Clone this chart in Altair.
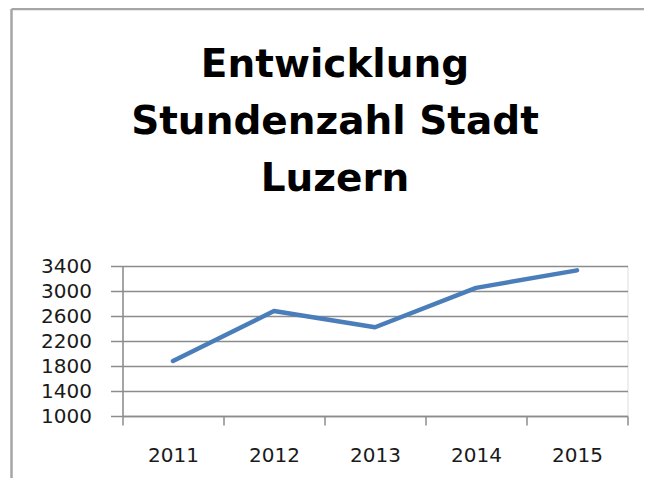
import altair as alt
import pandas as pd

# ---- data ----
years = ["2011", "2012", "2013", "2014", "2015"]
hours = [1880, 2680, 2420, 3050, 3330]
y_ticks = [1000, 1400, 1800, 2200, 2600, 3000, 3400]
title_lines = ["Entwicklung", "Stundenzahl Stadt", "Luzern"]

df = pd.DataFrame({"Jahr": years, "Stunden": hours})
one = pd.DataFrame({"k": [0]})

W, H = 505, 150
PAD_L, PAD_T, PAD_R, PAD_B = 114.5, 258, 16.5, 62

grey = "#8c8c8c"
frame_color = "#a6a6a6"
label_font = "DejaVu Sans"

line = alt.Chart(df).mark_line(
    color="#4A7EBB", strokeWidth=4.5, strokeCap="round", strokeJoin="round"
).encode(
    x=alt.X(
        "Jahr:O",
        sort=years,
        scale=alt.Scale(type="band", paddingInner=0, paddingOuter=0),
        axis=alt.Axis(
            title=None, labelAngle=0, tickBand="extent", tickSize=9,
            tickColor=grey, tickWidth=1.5, domainColor=grey, domainWidth=1.5,
            labelFont=label_font, labelFontSize=20, labelPadding=20,
            labelColor="#1a1a1a", grid=False,
        ),
    ),
    y=alt.Y(
        "Stunden:Q",
        scale=alt.Scale(domain=[1000, 3400], nice=False, zero=False),
        axis=alt.Axis(
            title=None, values=y_ticks, format="d", tickSize=12, tickColor=grey,
            tickWidth=1.5, domainColor=grey, domainWidth=1.5,
            labelFont=label_font, labelFontSize=20, labelPadding=19,
            labelColor="#1a1a1a", grid=True, gridColor=grey, gridWidth=1.5,
        ),
    ),
)

top_border = alt.Chart(one).mark_rule(color=frame_color, strokeWidth=2.5).encode(
    x=alt.value(-111), x2=alt.value(W + PAD_R), y=alt.value(-257)
)
left_border = alt.Chart(one).mark_rule(color=frame_color, strokeWidth=2.5).encode(
    x=alt.value(-111), y=alt.value(-257), y2=alt.value(H + PAD_B)
)

chart = alt.layer(top_border, left_border, line).properties(
    width=W,
    height=H,
    title=alt.TitleParams(
        text=title_lines, font="DejaVu Sans", fontSize=39, fontWeight="bold",
        lineHeight=57, anchor="middle", dx=-40, offset=-191, color="black",
    ),
    autosize=alt.AutoSizeParams(type="none"),
    padding={"left": PAD_L, "top": PAD_T, "right": PAD_R, "bottom": PAD_B},
).configure_view(stroke=None).configure(background="white")

chart.save("out.html", embed_options={"renderer": "svg", "actions": False})
